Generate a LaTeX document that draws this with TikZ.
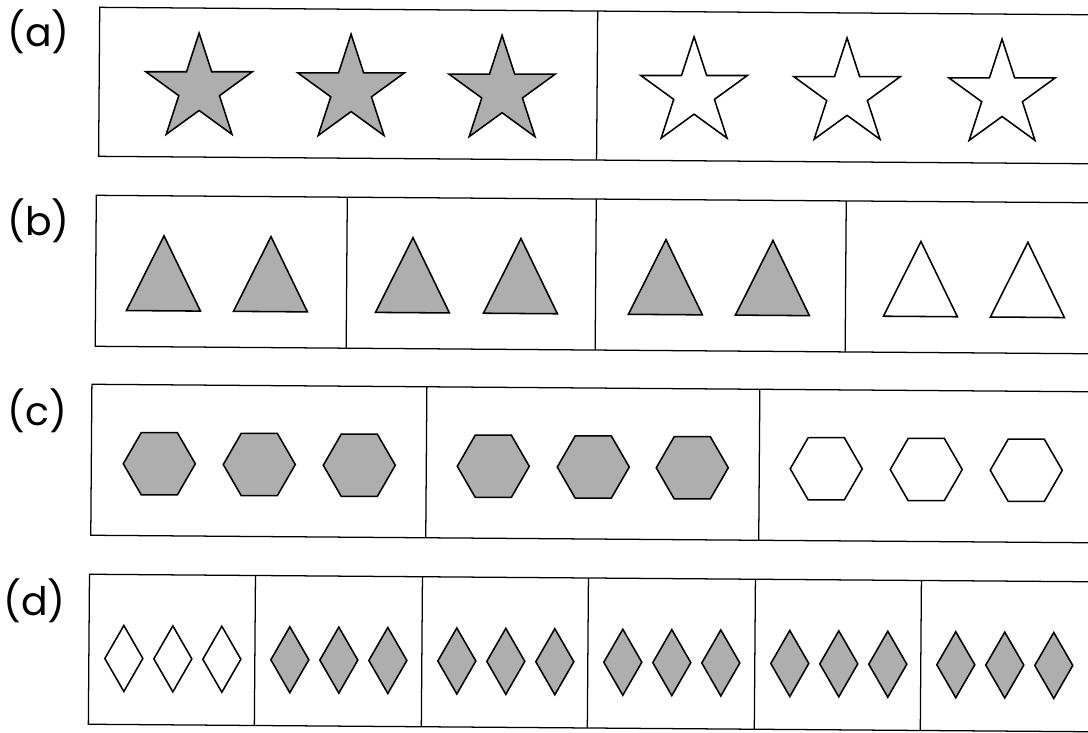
\documentclass[tikz,border=0pt]{standalone}
\usepackage{fontspec}
\setsansfont{Poppins}
\usepackage{tikz}
\usetikzlibrary{shapes.geometric}
\definecolor{stipple}{HTML}{AEAEAE}

\tikzset{
  panel/.style={draw=black, line width=0.9pt},
  fillshape/.style={draw=black, line width=1.1pt, fill=stipple, inner sep=0pt, outer sep=0pt},
  openshape/.style={draw=black, line width=1.1pt, fill=white, inner sep=0pt, outer sep=0pt},
  starshape/.style={star, star points=5, star point ratio=2.618, minimum size=2.8cm},
  hexshape/.style={regular polygon, regular polygon sides=6, minimum size=1.8cm},
  gemshape/.style={diamond, minimum width=0.95cm, minimum height=1.65cm},
  tag/.style={font=\sffamily\fontsize{28}{32}\selectfont, anchor=west, inner sep=0pt}
}

\begin{document}
\begin{tikzpicture}[x=0.025cm, y=-0.025cm]
  \clip (0,0) rectangle (1088,732);

  % row labels
  \node[tag] (la) at (7,32) {(a)};
  \node[tag] (lb) at (7,221) {(b)};
  \node[tag] (lc) at (7,411) {(c)};
  \node[tag] (ld) at (3,601) {(d)};

  \begin{scope}[rotate around={-0.43:(590,370)}]
    % (a) stars
    \draw[panel] (97,11) rectangle (1110,160);
    \draw[panel] (595,11) -- (595,160);
    \foreach \x [count=\i] in {197,349,500}
      \node[fillshape, starshape] (sa\i) at (\x,92) {};
    \foreach \x [count=\i] in {692,845,1000}
      \node[openshape, starshape] (so\i) at (\x,92) {};

    % (b) triangles
    \draw[panel] (95,199) rectangle (1110,350);
    \foreach \x in {346,595,845}
      \draw[panel] (\x,199) -- (\x,350);
    \foreach \x in {163,270,412,520,665,772}
      \draw[fillshape] ({\x-37},314) -- (\x,239) -- ({\x+37},314) -- cycle;
    \foreach \x in {920,1027}
      \draw[openshape] ({\x-37},314) -- (\x,239) -- ({\x+37},314) -- cycle;

    % (c) hexagons
    \draw[panel] (92,388) rectangle (1110,539);
    \foreach \x in {427,760}
      \draw[panel] (\x,388) -- (\x,539);
    \foreach \x [count=\i] in {160,260,360,494,594,693}
      \node[fillshape, hexshape] (hf\i) at (\x,467) {};
    \foreach \x [count=\i] in {827,927,1027}
      \node[openshape, hexshape] (ho\i) at (\x,467) {};

    % (d) diamonds
    \draw[panel] (91,578) rectangle (1110,728);
    \foreach \x in {257,424,590,757,923}
      \draw[panel] (\x,578) -- (\x,728);
    \foreach \d [count=\i] in {35,84,133}
      \node[openshape, gemshape] (do\i) at ({91+\d},662) {};
    \foreach \c in {257,424,590,757,923}
      \foreach \d in {35,84,133}
        \node[fillshape, gemshape] (df\c-\d) at ({\c+\d},662) {};
  \end{scope}
\end{tikzpicture}
\end{document}
